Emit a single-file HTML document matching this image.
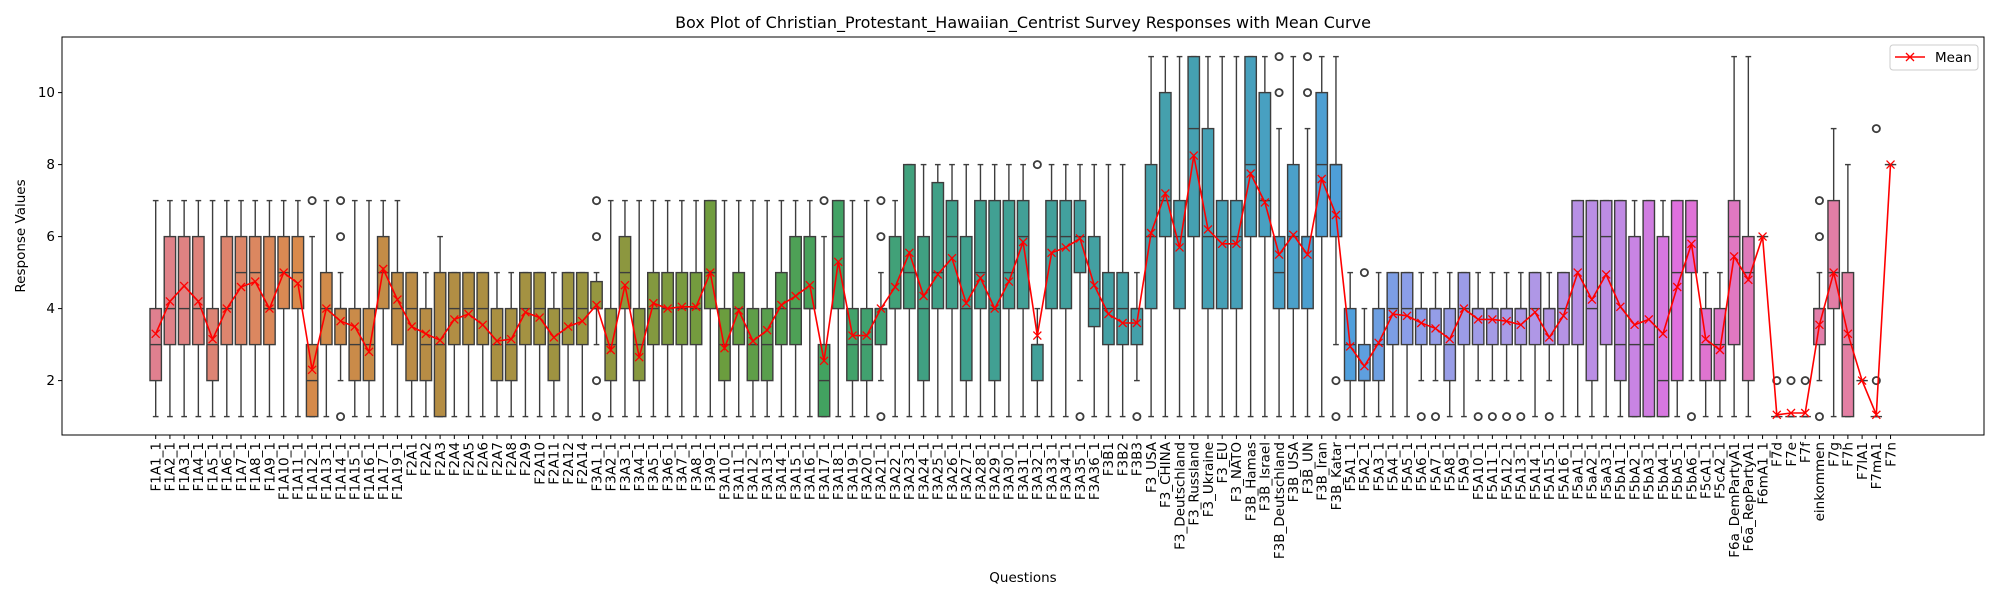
<!DOCTYPE html>
<html><head><meta charset="utf-8"><style>
html,body{margin:0;padding:0;background:#fff;}
svg{display:block;font-family:"DejaVu Sans","Liberation Sans",sans-serif;}
</style></head><body>
<svg id="chart" width="2000" height="600" viewBox="0 0 2000 600" xmlns="http://www.w3.org/2000/svg">
<rect x="0" y="0" width="2000" height="600" fill="#fff"/>
<text x="1023" y="28" font-size="16" text-anchor="middle" fill="#000">Box Plot of Christian_Protestant_Hawaiian_Centrist Survey Responses with Mean Curve</text>
<text x="25" y="236" font-size="13.5" text-anchor="middle" transform="rotate(-90 25 236)" fill="#000">Response Values</text>
<text x="1023" y="582" font-size="13.5" text-anchor="middle" fill="#000">Questions</text>
<g id="marks"></g>
<rect x="62" y="37" width="1922" height="398" fill="none" stroke="#000" stroke-width="1"/>
<g>
<rect x="1890" y="45" width="88" height="25" rx="3" fill="#fff" stroke="#ccc" stroke-width="1"/>
<line x1="1895" y1="57" x2="1925" y2="57" stroke="red" stroke-width="1.6"/>
<path d="M1906 53 L1914 61 M1906 61 L1914 53" stroke="red" stroke-width="1.3"/>
<text x="1935" y="62" font-size="13.5" fill="#000">Mean</text>
</g>
</svg>
<script>
const categories = ["F1A1_1","F1A2_1","F1A3_1","F1A4_1","F1A5_1","F1A6_1","F1A7_1","F1A8_1","F1A9_1","F1A10_1","F1A11_1","F1A12_1","F1A13_1","F1A14_1","F1A15_1","F1A16_1","F1A17_1","F1A19_1",
"F2A1","F2A2","F2A3","F2A4","F2A5","F2A6","F2A7","F2A8","F2A9","F2A10","F2A11","F2A12","F2A14",
"F3A1_1","F3A2_1","F3A3_1","F3A4_1","F3A5_1","F3A6_1","F3A7_1","F3A8_1","F3A9_1","F3A10_1","F3A11_1","F3A12_1","F3A13_1","F3A14_1","F3A15_1","F3A16_1","F3A17_1","F3A18_1","F3A19_1","F3A20_1","F3A21_1","F3A22_1","F3A23_1","F3A24_1","F3A25_1","F3A26_1","F3A27_1","F3A28_1","F3A29_1","F3A30_1","F3A31_1","F3A32_1","F3A33_1","F3A34_1","F3A35_1","F3A36_1",
"F3B1","F3B2","F3B3","F3_USA","F3_CHINA","F3_Deutschland","F3_Russland","F3_Ukraine","F3_EU","F3_NATO","F3B_Hamas","F3B_Israel","F3B_Deutschland","F3B_USA","F3B_UN","F3B_Iran","F3B_Katar",
"F5A1_1","F5A2_1","F5A3_1","F5A4_1","F5A5_1","F5A6_1","F5A7_1","F5A8_1","F5A9_1","F5A10_1","F5A11_1","F5A12_1","F5A13_1","F5A14_1","F5A15_1","F5A16_1",
"F5aA1_1","F5aA2_1","F5aA3_1","F5bA1_1","F5bA2_1","F5bA3_1","F5bA4_1","F5bA5_1","F5bA6_1","F5cA1_1","F5cA2_1","F6a_DemPartyA1","F6a_RepPartyA1","F6mA1_1",
"F7d","F7e","F7f","einkommen","F7g","F7h","F7lA1","F7mA1","F7n"];
const whiskerLow = [1,1,1,1,1,1,1,1,1,1,1,1,1,2,1,1,1,1, 1,1,1,1,1,1,1,1,1,1,1,1,1, 3,1,1,1,1,1,1,1,1,1,1,1,1,1,1,1,1,1,1,1,2,1,1,1,1,1,1,1,1,1,1,1,1,1,2,1, 1,1,2,1,1,1,1,1,1,1,1,1,1,1,1,1,3, 1,1,1,1,1,2,2,1,1,2,2,2,2,1,2,1, 1,1,1,1,1,1,1,1,2,1,1,1,1,6, 1,1,1,2,1,1,2,1,8];
const q1 = [2,3,3,3,2,3,3,3,3,4,4,1,3,3,2,2,4,3, 2,2,1,3,3,3,2,2,3,3,2,3,3, 4,2,4,2,3,3,3,3,4,2,3,2,2,3,3,4,1,4,2,2,3,4,4,2,4,4,2,4,2,4,4,2,4,4,5,3.5, 3,3,3,4,6,4,6,4,4,4,6,6,4,4,4,6,6, 2,2,2,3,3,3,3,2,3,3,3,3,3,3,3,3, 3,2,3,2,1,1,1,2,5,2,2,3,2,6, 1,1,1,3,4,1,2,1,8];
const medians = [3,4,4,4,3,4,5,5,4,5,5,2,4,4,3,3,5,4, 4,3,3,4,4,4,3,3,4,4,3,4,4, 4,3,5,3,4,4,4,4,5,3,4,3,3,4,4,4,2,6,3,3,4,4,5,4,5,6,4,5,4,5,6,3,6,6,6,4, 4,4,4,6,7,6,9,6,6,6,8,7,5,6,6,8,8, 3,2,3,4,4,4,4,3,4,4,4,4,4,4,4,4, 6,4,6,3,3,3,2,5,6,3,3,6,5,6, 1,1,1,4,5,3,2,1,8];
const q3 = [4,6,6,6,4,6,6,6,6,6,6,3,5,4,4,4,6,5, 5,4,5,5,5,5,4,4,5,5,4,5,5, 4.75,4,6,4,5,5,5,5,7,4,5,4,4,5,6,6,3,7,4,4,4,6,8,6,7.5,7,6,7,7,7,7,3,7,7,7,6, 5,5,4,8,10,7,11,9,7,7,11,10,6,8,6,10,8, 4,3,4,5,5,4,4,4,5,4,4,4,4,5,4,5, 7,7,7,7,6,7,6,7,7,4,4,7,6,6, 1,1,1,4,7,5,2,1,8];
const whiskerHigh = [7,7,7,7,7,7,7,7,7,7,7,6,7,5,7,7,7,7, 5,5,6,5,5,5,5,5,5,5,5,5,5, 5,7,7,7,7,7,7,7,7,7,7,7,7,7,7,7,6,7,7,7,5,7,8,8,8,8,8,8,8,8,8,4,8,8,8,8, 8,8,5,11,11,11,11,11,11,11,11,11,9,11,9,11,11, 5,4,5,5,5,5,5,5,5,5,5,5,5,5,5,5, 7,7,7,7,7,7,7,7,7,5,5,11,11,6, 1,1,1,5,9,8,2,1,8];
const means = [3.3,4.2,4.63,4.2,3.15,4.0,4.6,4.75,4.0,5.0,4.7,2.3,4.0,3.65,3.5,2.8,5.1,4.25, 3.5,3.3,3.12,3.7,3.85,3.55,3.1,3.15,3.9,3.75,3.2,3.5,3.65, 4.1,2.85,4.65,2.65,4.15,4.0,4.05,4.05,5.0,2.9,3.95,3.1,3.4,4.1,4.35,4.65,2.55,5.3,3.25,3.25,4.0,4.6,5.55,4.35,4.95,5.4,4.15,4.85,4.0,4.75,5.85,3.25,5.55,5.7,5.95,4.65, 3.85,3.6,3.6,6.1,7.2,5.7,8.25,6.2,5.8,5.8,7.75,6.95,5.5,6.05,5.5,7.6,6.6, 2.95,2.4,3.05,3.85,3.8,3.6,3.45,3.15,4.0,3.7,3.7,3.65,3.55,3.9,3.2,3.8, 5.0,4.25,4.95,4.05,3.55,3.7,3.3,4.6,5.8,3.15,2.85,5.45,4.8,6.0, 1.05,1.1,1.1,3.55,5.0,3.3,2.0,1.05,8.0];
const outlierCats = [11,13,13,13,31,31,31,31,47,51,51,51,62,65,69,79,79,81,81,83,83,85,89,90,93,94,95,96,98,108,114,115,116,117,117,117,121,121];
const outlierVals = [7,7,6,1,7,6,2,1,7,7,6,1,8,1,1,11,10,11,10,2,1,5,1,1,1,1,1,1,1,1,2,2,2,7,6,1,9,2];

const X0 = 155.7, DX = 14.22, BW = 11.4;
function xPos(i){ return X0 + DX*i; }
function yPos(v){ return 452.6 - 36*v; }
const NS = "http://www.w3.org/2000/svg";
const g = document.getElementById('marks');
const svg = document.getElementById('chart');
function mk(tag, attrs, parent){ const e=document.createElementNS(NS,tag); for(const k in attrs) e.setAttribute(k,attrs[k]); (parent||g).appendChild(e); return e; }

const yTicks = [2,4,6,8,10];
yTicks.forEach(v=>{
  const t = mk('line',{x1:58,x2:62,y1:yPos(v),y2:yPos(v),stroke:'#000','stroke-width':1},svg);
  
  
  const l = mk('text',{x:55,y:yPos(v)+4.5,'font-size':13.5,'text-anchor':'end',fill:'#000'},svg);
  l.textContent = String(v);
  
  
});

const anchors = [[0,[224,128,143]],[10,[217,138,76]],[20,[180,141,68]],[30,[154,149,64]],[40,[107,157,62]],[47,[66,162,96]],[56,[64,160,140]],[66,[67,160,162]],[76,[70,160,184]],[84,[79,159,220]],[88,[139,158,232]],[95,[169,155,230]],[103,[192,138,228]],[107,[223,112,222]],[112,[224,122,186]],[122,[228,129,153]]];
function colorAt(i){
  for(let k=0;k<anchors.length-1;k++){
    const [a,ca]=anchors[k],[b,cb]=anchors[k+1];
    if(i>=a&&i<=b){ const t=(i-a)/(b-a); return 'rgb('+ca.map((c,j)=>Math.round(c+(cb[j]-c)*t)).join(',')+')'; }
  }
  return 'rgb(228,129,153)';
}

const EDGE = '#3d3d3d';
categories.forEach((name,i)=>{
  const x = xPos(i);
  const grp = mk('g',{});
  
  
  mk('line',{x1:x,x2:x,y1:yPos(whiskerLow[i]),y2:yPos(q1[i]),stroke:EDGE,'stroke-width':1.4},grp);
  mk('line',{x1:x,x2:x,y1:yPos(q3[i]),y2:yPos(whiskerHigh[i]),stroke:EDGE,'stroke-width':1.4},grp);
  mk('line',{x1:x-BW/4,x2:x+BW/4,y1:yPos(whiskerLow[i]),y2:yPos(whiskerLow[i]),stroke:EDGE,'stroke-width':1.4},grp);
  mk('line',{x1:x-BW/4,x2:x+BW/4,y1:yPos(whiskerHigh[i]),y2:yPos(whiskerHigh[i]),stroke:EDGE,'stroke-width':1.4},grp);
  const top=yPos(q3[i]), bot=yPos(q1[i]);
  mk('rect',{x:x-BW/2,y:top,width:BW,height:Math.max(0,bot-top),fill:colorAt(i),stroke:EDGE,'stroke-width':1.4},grp);
  mk('line',{x1:x-BW/2,x2:x+BW/2,y1:yPos(medians[i]),y2:yPos(medians[i]),stroke:EDGE,'stroke-width':1.4},grp);
  const tk = mk('line',{x1:x,x2:x,y1:435,y2:439,stroke:'#000','stroke-width':1},svg);
  
  
  const lb = mk('text',{x:x+4.8,y:442,'font-size':13.5,'text-anchor':'end',fill:'#000',transform:'rotate(-90 '+(x+4.8)+' 442)'},svg);
  lb.textContent = name;
  
  
});

outlierCats.forEach((c,k)=>{
  const o = mk('circle',{cx:xPos(c),cy:yPos(outlierVals[k]),r:3.6,fill:'none',stroke:EDGE,'stroke-width':1.8});
  
  
});

const pts = means.map((m,i)=>xPos(i).toFixed(1)+','+yPos(m).toFixed(1)).join(' ');
const ml = mk('polyline',{points:pts,fill:'none',stroke:'red','stroke-width':1.6});


means.forEach((m,i)=>{
  const x=xPos(i), y=yPos(m), s=4;
  const p = mk('path',{d:`M${x-s} ${y-s} L${x+s} ${y+s} M${x-s} ${y+s} L${x+s} ${y-s}`,stroke:'red','stroke-width':1.3,fill:'none'});
  
  
});
</script>
</body></html>
